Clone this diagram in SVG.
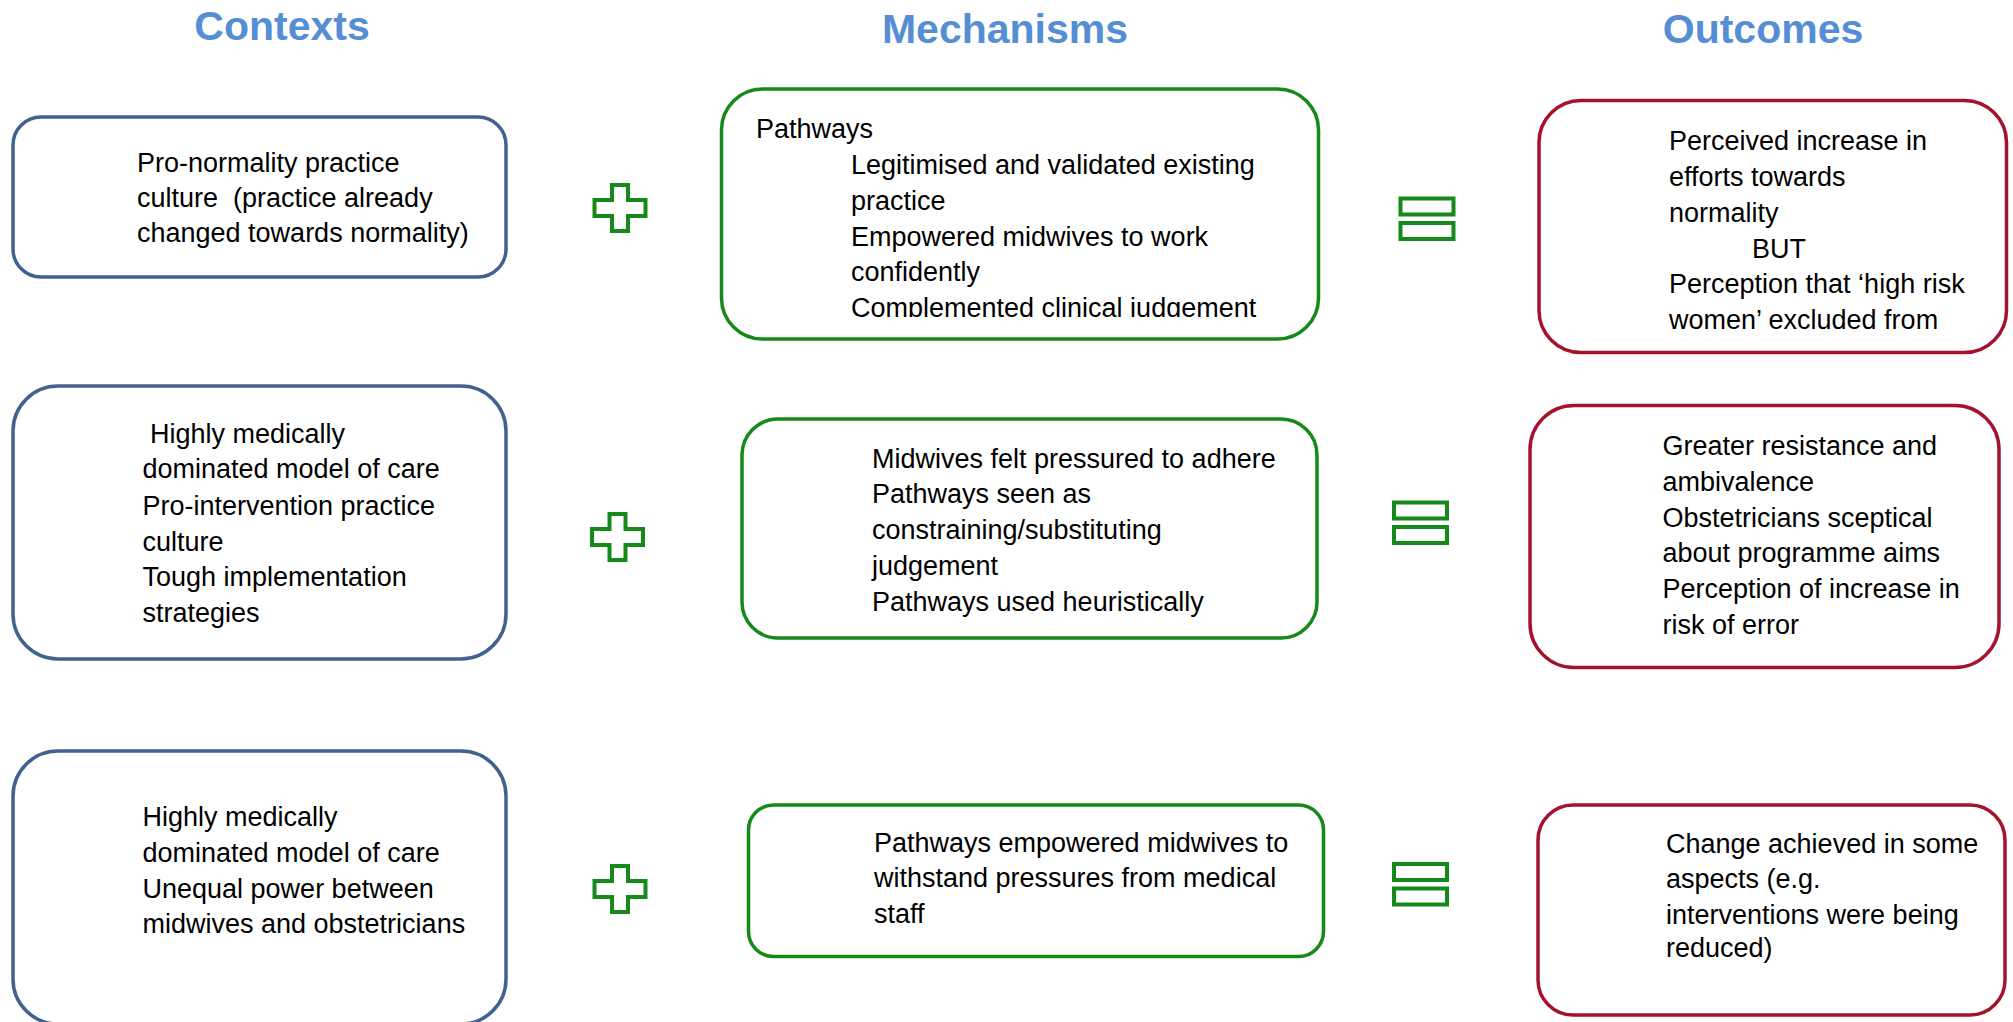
<svg xmlns="http://www.w3.org/2000/svg" width="2013" height="1022" viewBox="0 0 2013 1022">
<style>
.title{font-family:"Liberation Sans",Arial,sans-serif;font-weight:bold;font-size:41px;fill:#558ED5;text-anchor:middle}
.t{font-family:"Liberation Sans",Arial,sans-serif;font-size:27px;fill:#000}
.ctx{fill:#fff;stroke:#41618F;stroke-width:3.5}
.mech{fill:#fff;stroke:#15891A;stroke-width:3.5}
.out{fill:#fff;stroke:#A5122E;stroke-width:3.5}
.op{fill:#fff;stroke:#15891A;stroke-width:4}
</style>
<defs>
<path id="plus" d="M-8,-23 H8 V-8 H25.5 V8 H8 V23 H-8 V8 H-25.5 V-8 H-8 Z"/>
<g id="eq"><rect x="0" y="0" width="53" height="16"/><rect x="0" y="24.5" width="53" height="16"/></g>
<clipPath id="clipM1"><rect x="700" y="80" width="640" height="237"/></clipPath>
</defs>

<g id="titles">
<text class="title" x="282" y="40">Contexts</text>
<text class="title" x="1005" y="43">Mechanisms</text>
<text class="title" x="1763" y="43">Outcomes</text>
</g>

<g id="context1">
<rect class="ctx" x="13" y="117" width="493" height="160" rx="28"/>
<text class="t" x="137" y="172">Pro-normality practice</text>
<text class="t" x="137" y="207" xml:space="preserve">culture  (practice already</text>
<text class="t" x="137" y="242">changed towards normality)</text>
</g>

<g id="context2">
<rect class="ctx" x="13" y="386" width="493" height="273" rx="45"/>
<text class="t" x="150" y="443">Highly medically</text>
<text class="t" x="142.5" y="478">dominated model of care</text>
<text class="t" x="142.5" y="515">Pro-intervention practice</text>
<text class="t" x="142.5" y="551">culture</text>
<text class="t" x="142.5" y="586">Tough implementation</text>
<text class="t" x="142.5" y="622">strategies</text>
</g>

<g id="context3">
<rect class="ctx" x="13" y="751" width="493" height="273" rx="45"/>
<text class="t" x="142.5" y="826">Highly medically</text>
<text class="t" x="142.5" y="862">dominated model of care</text>
<text class="t" x="142.5" y="898">Unequal power between</text>
<text class="t" x="142.5" y="933">midwives and obstetricians</text>
</g>

<g id="plus1" class="op"><use href="#plus" x="620" y="208"/></g>
<g id="plus2" class="op"><use href="#plus" x="617.5" y="537"/></g>
<g id="plus3" class="op"><use href="#plus" x="620" y="889"/></g>

<g id="mechanism1">
<rect class="mech" x="721.5" y="89" width="597" height="250" rx="41"/>
<g clip-path="url(#clipM1)">
<text class="t" x="756" y="138">Pathways</text>
<text class="t" x="851" y="174">Legitimised and validated existing</text>
<text class="t" x="851" y="210">practice</text>
<text class="t" x="851" y="246">Empowered midwives to work</text>
<text class="t" x="851" y="281">confidently</text>
<text class="t" x="851" y="317">Complemented clinical judgement</text>
</g>
</g>

<g id="mechanism2">
<rect class="mech" x="742" y="419" width="575" height="219" rx="36"/>
<text class="t" x="872" y="468">Midwives felt pressured to adhere</text>
<text class="t" x="872" y="503">Pathways seen as</text>
<text class="t" x="872" y="539">constraining/substituting</text>
<text class="t" x="872" y="575">judgement</text>
<text class="t" x="872" y="611">Pathways used heuristically</text>
</g>

<g id="mechanism3">
<rect class="mech" x="748.5" y="805" width="575" height="151.5" rx="25"/>
<text class="t" x="874" y="852">Pathways empowered midwives to</text>
<text class="t" x="874" y="887">withstand pressures from medical</text>
<text class="t" x="874" y="923">staff</text>
</g>

<g id="equals1" class="op"><use href="#eq" x="1400.5" y="198.5"/></g>
<g id="equals2" class="op"><use href="#eq" x="1394" y="502.5"/></g>
<g id="equals3" class="op"><use href="#eq" x="1394" y="864"/></g>

<g id="outcome1">
<rect class="out" x="1539" y="100.5" width="467.5" height="252" rx="42"/>
<text class="t" x="1669" y="150">Perceived increase in</text>
<text class="t" x="1669" y="186">efforts towards</text>
<text class="t" x="1669" y="222">normality</text>
<text class="t" x="1752" y="258">BUT</text>
<text class="t" x="1669" y="293">Perception that ‘high risk</text>
<text class="t" x="1669" y="329">women’ excluded from</text>
</g>

<g id="outcome2">
<rect class="out" x="1530" y="405.5" width="469" height="262" rx="44"/>
<text class="t" x="1662.5" y="455">Greater resistance and</text>
<text class="t" x="1662.5" y="491">ambivalence</text>
<text class="t" x="1662.5" y="527">Obstetricians sceptical</text>
<text class="t" x="1662.5" y="562">about programme aims</text>
<text class="t" x="1662.5" y="598">Perception of increase in</text>
<text class="t" x="1662.5" y="634">risk of error</text>
</g>

<g id="outcome3">
<rect class="out" x="1538" y="805" width="467" height="210" rx="35"/>
<text class="t" x="1666" y="853">Change achieved in some</text>
<text class="t" x="1666" y="888">aspects (e.g.</text>
<text class="t" x="1666" y="924">interventions were being</text>
<text class="t" x="1666" y="957">reduced)</text>
</g>

<g id="connectors"></g>
</svg>
